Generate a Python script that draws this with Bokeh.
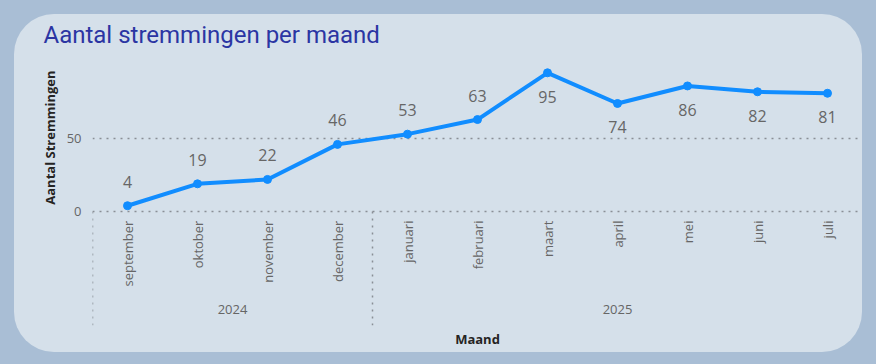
import math
from bokeh.plotting import figure
from bokeh.models import (FactorRange, Range1d, FixedTicker, ColumnDataSource,
                          GlobalInlineStyleSheet, Title)
from bokeh.core.properties import value
from bokeh.embed import file_html
from bokeh.resources import INLINE

# ---- data ----
years = ["2024", "2024", "2024", "2024",
         "2025", "2025", "2025", "2025", "2025", "2025", "2025"]
months = ["september", "oktober", "november", "december",
          "januari", "februari", "maart", "april", "mei", "juni", "juli"]
counts = [4, 19, 22, 46, 53, 63, 95, 74, 86, 82, 81]
y_ticks = [0, 50]

OUTER = "#a9bed5"
INNER = "#d5e0ea"
GREY = "#666666"
DARK = "#252423"
BLUE = "#118DFF"
DOT = "#8a8f96"

Y_TOP = 100
Y_BOTTOM = -78   # room below zero for the category labels

factors = list(zip(years, months))
src = ColumnDataSource(dict(
    x=factors,
    y=counts,
    label=[str(c) for c in counts],
    off=[24 if c >= 70 else -24 for c in counts],
))

groups = list(dict.fromkeys(years))
first_of_group = [factors[years.index(g)] for g in groups]
sep_src = ColumnDataSource(dict(
    x=[f + (-0.5,) for f in first_of_group],
    y0=[0] * len(groups),
    y1=[Y_BOTTOM] * len(groups),
))
month_src = ColumnDataSource(dict(x=factors, y=[0] * len(factors), t=months))
year_src = ColumnDataSource(dict(x=groups, y=[0] * len(groups), t=groups))

p = figure(
    width=848, height=338,
    x_range=FactorRange(*factors, factor_padding=0, group_padding=0, range_padding=0),
    y_range=Range1d(Y_BOTTOM, Y_TOP),
    x_axis_location=None,
    output_backend="svg", toolbar_location=None,
    min_border_left=78, min_border_right=0, min_border_top=51, min_border_bottom=27,
    background_fill_color=None, border_fill_color=None, outline_line_color=None,
)
p.styles = {"border-radius": "40px", "overflow": "hidden",
            "background-color": INNER,
            "margin-left": "14px", "margin-top": "14px"}
p.stylesheets = [GlobalInlineStyleSheet(css="body{background-color:%s;}" % OUTER)]

# spacer between frame and title (innermost "above" item)
p.add_layout(Title(text=" ", text_font_size="10px", standoff=0), "above")

# title
p.title.text = "Aantal stremmingen per maand"
p.title.text_font = "Roboto"
p.title.text_font_size = "24px"
p.title.text_font_style = "normal"
p.title.text_color = "#2b35a3"
p.title.align = "left"
p.title.offset = -49
p.title.standoff = 8

# y axis
yax = p.yaxis[0]
yax.ticker = FixedTicker(ticks=y_ticks)
yax.axis_line_color = None
yax.major_tick_line_color = None
yax.minor_tick_line_color = None
yax.major_label_text_font = "Open Sans"
yax.major_label_text_font_size = "13px"
yax.major_label_text_color = GREY
yax.major_label_standoff = 5

p.add_layout(Title(text="Aantal Stremmingen", align="right", offset=5, standoff=10,
                   text_font="Open Sans", text_font_size="13px", text_font_style="bold",
                   text_color=DARK), "left")
p.add_layout(Title(text="Maand", align="center", standoff=5,
                   text_font="Open Sans", text_font_size="13px", text_font_style="bold",
                   text_color=DARK), "below")

# category labels below the zero line
p.text("x", "y", text="t", source=month_src, angle=math.pi / 2, y_offset=9,
       text_align="right", text_baseline="middle",
       text_font=value("Open Sans"), text_font_size="13px", text_color=GREY)
p.text("x", "y", text="t", source=year_src, y_offset=98,
       text_align="center", text_baseline="middle",
       text_font=value("Open Sans"), text_font_size="13px", text_color=GREY)
p.segment(x0="x", y0="y0", x1="x", y1="y1", source=sep_src,
          line_color=DOT, line_width=1.5, line_dash="2 5")

# grid: horizontal dotted lines only
for g in p.grid:
    if g.dimension == 0:
        g.visible = False
p.ygrid.ticker = FixedTicker(ticks=y_ticks)
p.ygrid.grid_line_color = DOT
p.ygrid.grid_line_width = 1.5
p.ygrid.grid_line_dash = "2 5"

# data
p.line("x", "y", source=src, line_color=BLUE, line_width=4)
p.scatter("x", "y", source=src, size=8, fill_color=BLUE, line_color=BLUE)
p.text("x", "y", text="label", source=src, y_offset="off",
       text_align="center", text_baseline="middle",
       text_font=value("Open Sans"), text_font_size="16px", text_color=GREY)

open("out.html", "w").write(file_html(p, INLINE))
